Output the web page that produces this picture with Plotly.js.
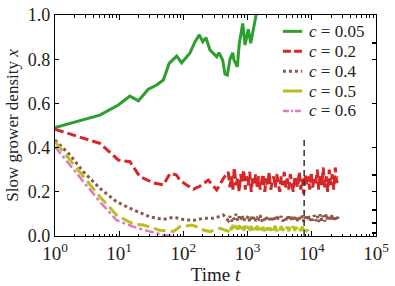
<!DOCTYPE html>
<html><head><meta charset="utf-8">
<script src="https://cdn.plot.ly/plotly-3.0.1.min.js"></script>
<style>body{margin:0;background:#fff}#c{width:395px;height:286px}</style>
</head><body><div id="c"></div>
<script>
const labels = ["<i>c</i> = 0.05","<i>c</i> = 0.2","<i>c</i> = 0.4","<i>c</i> = 0.5","<i>c</i> = 0.6"];
const colors = ["#2ca02c","#d62728","#8c564b","#bcbd22","#e377c2"];

const tGreen = [1,5,9.7,14.7,19.9,28.4,38.4,48.7,60,78.5,94,126,152,177,200,225,259,330,358,409,444,483,532,586,613,692,743,839,912,1025,1117,1230,1400];
const yGreen = [0.491,0.547,0.593,0.633,0.612,0.664,0.683,0.706,0.781,0.814,0.784,0.827,0.879,0.91,0.879,0.897,0.842,0.811,0.829,0.796,0.733,0.728,0.80,0.829,0.796,0.766,0.872,0.962,0.864,0.935,0.872,0.932,1.02];

const tRedEarly = [1,5,9.7,14.7,21,35,48.7,62,78,88,112,143,182,243,330,420];
const yRedEarly = [0.483,0.419,0.344,0.336,0.268,0.24,0.231,0.284,0.276,0.253,0.231,0.211,0.226,0.253,0.208,0.261];

const tLate = [500,530,560,590,620,660,700,740,780,820,870,920,970,1020,1080,1140,1200,1270,1340,1410,1490,1570,1660,1750,1850,1950,2060,2170,2290,2420,2550,2690,2840,3000,3170,3340,3530,3720,3930,4150,4380,4620,4870,5140,5430,5730,6040,6380,6730,7100,7490,7910,8340,8800,9290,9800,10300,10900,11500,12200,12800,13500,14300,15100,15900,16800,17700,18700,19700,20800,22000,23200,24500,25800];
const yRedLate = [0.29,0.22,0.27,0.21,0.31,0.23,0.26,0.20,0.28,0.24,0.30,0.21,0.27,0.23,0.29,0.20,0.26,0.24,0.28,0.22,0.27,0.21,0.25,0.28,0.20,0.26,0.23,0.29,0.21,0.25,0.27,0.22,0.28,0.24,0.20,0.27,0.23,0.29,0.22,0.26,0.21,0.28,0.24,0.20,0.27,0.25,0.22,0.29,0.21,0.26,0.19,0.28,0.23,0.27,0.21,0.29,0.22,0.26,0.24,0.30,0.21,0.28,0.23,0.31,0.22,0.27,0.20,0.30,0.23,0.28,0.21,0.31,0.24,0.27];

const tBrownEarly = [1,1.71,2.76,5,9.1,16.6,30,48.7,70,100,140,205,300,420];
const yBrownEarly = [0.434,0.367,0.291,0.216,0.155,0.118,0.087,0.075,0.085,0.075,0.07,0.08,0.08,0.095];
const yBrownLate = [0.07,0.09,0.065,0.085,0.075,0.10,0.068,0.088,0.072,0.095,0.066,0.084,0.078,0.092,0.064,0.086,0.074,0.09,0.068,0.082,0.076,0.094,0.066,0.084,0.072,0.088,0.07,0.08,0.064,0.086,0.074,0.092,0.068,0.082,0.076,0.09,0.066,0.084,0.072,0.088,0.07,0.094,0.066,0.086,0.074,0.09,0.068,0.084,0.072,0.092,0.064,0.088,0.074,0.096,0.066,0.086,0.07,0.094,0.068,0.09,0.064,0.098,0.07,0.092,0.066,0.1,0.068,0.094,0.072,0.098,0.066,0.092,0.07,0.088];

const tYellowEarly = [1,1.71,2.76,5,9.1,16.6,23.7,43,70,88,112,135,161,205,260,370];
const yYellowEarly = [0.427,0.344,0.268,0.178,0.095,0.054,0.05,0.026,0.021,0.042,0.045,0.05,0.042,0.027,0.02,0.035];
const yYellowLate = [0.022,0.045,0.028,0.05,0.024,0.04,0.03,0.048,0.022,0.042,0.026,0.046,0.024,0.038,0.03,0.044,0.022,0.04,0.028,0.046,0.024,0.042,0.026,0.04,0.022,0.044,0.028,0.038,0.024,0.042,0.026,0.046,0.022,0.04,0.028,0.044,0.024,0.038,0.026,0.042,0.022,0.04,0.028,0.044,0.024,0.04,0.026,0.038,0.022,0.042,0.026,0.04,0.024,0.03];

const tPink = [1,1.71,2.76,5,9.1,16.6,30,48.7,70];
const yPink = [0.404,0.321,0.246,0.155,0.072,0.042,0.02,0.005,0.0];

const tMarker = [7600,7600];
const yMarker = [0,0.44];

const tRed = tRedEarly.concat(tLate);
const yRed = yRedEarly.concat(yRedLate);
const tBrown = tBrownEarly.concat(tLate);
const yBrown = yBrownEarly.concat(yBrownLate);
const tYellow = tYellowEarly.concat(tLate.slice(0, yYellowLate.length));
const yYellow = yYellowEarly.concat(yYellowLate);

const series = [[tGreen,yGreen,"solid",3],[tRed,yRed,"9px,4px",3],[tBrown,yBrown,"dot",3],[tYellow,yYellow,"12px,5px",3],[tPink,yPink,"dashdot",2.5]];
const data = series.map((s,i)=>({x:s[0],y:s[1],type:"scatter",mode:"lines",name:labels[i],showlegend:false,
  line:{color:colors[i],width:s[3],dash:s[2]}}));
data.push({x:tMarker,y:yMarker,type:"scatter",mode:"lines",showlegend:false,hoverinfo:"skip",
  line:{color:"#333",width:1.5,dash:"6px,4px"}});
data.push({x:[1],y:[0],yaxis:"y2",type:"scatter",mode:"markers",marker:{opacity:0},showlegend:false,hoverinfo:"skip"});

const font = {family:"Liberation Serif, DejaVu Serif, serif",color:"#222"};

// hand-placed legend (paper coordinates)
const legY0 = 0.926, legDy = 0.09;
const legendDash = ["solid","8px,3px","dot","solid","6px,2px,2px,2px"];
const shapes = [], annotations = [];
series.forEach((s,i)=>{
  const yy = legY0 - i*legDy;
  shapes.push({type:"line",xref:"paper",yref:"paper",x0:0.71,x1:0.77,y0:yy,y1:yy,
    line:{color:colors[i],width:s[3],dash:legendDash[i]}});
  annotations.push({xref:"paper",yref:"paper",x:0.785,y:yy,xanchor:"left",yanchor:"middle",showarrow:false,
    text:labels[i],font:Object.assign({size:17},font)});
});

const minorVals=[];
for(let d=0;d<5;d++){for(let k=2;k<10;k++){minorVals.push(k*Math.pow(10,d));}}
const layout = {
  width:395,height:286,margin:{l:55,r:19,t:15,b:50},
  paper_bgcolor:"#fff",plot_bgcolor:"#fff",showlegend:false,
  font:Object.assign({size:17},font),shapes:shapes,annotations:annotations,
  xaxis:{type:"log",range:[0,5],showgrid:false,zeroline:false,showline:true,linecolor:"#000",linewidth:1.2,mirror:"ticks",
    ticks:"inside",ticklen:5,tickcolor:"#000",tickmode:"array",tickvals:[1,10,100,1000,10000,100000],
    ticktext:["10<sup>0</sup>","10<sup>1</sup>","10<sup>2</sup>","10<sup>3</sup>","10<sup>4</sup>","10<sup>5</sup>"],
    tickfont:Object.assign({size:19},font),
    minor:{tickmode:"array",tickvals:minorVals,ticks:"inside",ticklen:2.5,tickcolor:"#000"},
    title:{text:"Time <i>t</i>",font:Object.assign({size:19},font),standoff:2}},
  yaxis:{range:[0,1],showgrid:false,zeroline:false,showline:true,linecolor:"#000",linewidth:1.2,mirror:"ticks",
    ticks:"inside",ticklen:4,tickcolor:"#000",tickvals:[0,0.2,0.4,0.6,0.8,1.0],tickformat:".1f",
    tickfont:Object.assign({size:18},font),
    title:{text:"Slow grower density <i>x</i>",font:Object.assign({size:17},font),standoff:4}},
  yaxis2:{overlaying:"y",side:"right",range:[0,1],showgrid:false,zeroline:false,showline:false,
    ticks:"inside",ticklen:4,tickwidth:2,tickcolor:"#000",tickmode:"array",tickvals:[0.015,0.057,0.118,0.276,0.873],showticklabels:false}
};
Plotly.newPlot("c",data,layout,{staticPlot:true});
</script></body></html>
